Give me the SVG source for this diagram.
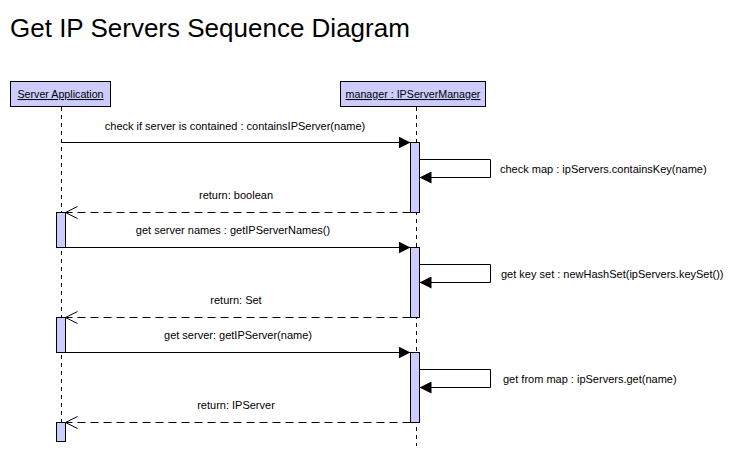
<svg xmlns="http://www.w3.org/2000/svg" width="736" height="453" viewBox="0 0 736 453">
<style>
text{font-family:"Liberation Sans",Arial,sans-serif;fill:#000}
.t{font-size:26px}
.l{font-size:11px}
.h{font-size:10.7px;text-decoration:underline}
.box{fill:#ccccff;stroke:#000;stroke-width:1}
.act{fill:#ccccff;stroke:#000;stroke-width:1}
.life{stroke:#000;stroke-width:1;stroke-dasharray:4,4;fill:none}
.call{stroke:#000;stroke-width:1;fill:none}
.ret{stroke:#000;stroke-width:1;stroke-dasharray:8,5;fill:none}
</style>
<defs>
<marker id="fill" markerWidth="12" markerHeight="12" refX="12" refY="6" orient="auto" markerUnits="userSpaceOnUse">
<path d="M0,0 L12,6 L0,12 Z" fill="#000"/>
</marker>
<marker id="open" markerWidth="14" markerHeight="14" refX="13" refY="7" orient="auto" markerUnits="userSpaceOnUse">
<path d="M1,1 L13,7 L1,13" fill="none" stroke="#000"/>
</marker>
</defs>
<rect width="736" height="453" fill="#fff"/>
<text class="t" x="10" y="37">Get IP Servers Sequence Diagram</text>

<g id="lifelines">
<line class="life" x1="61.5" y1="107" x2="61.5" y2="422"/>
<line class="life" x1="416.5" y1="107" x2="416.5" y2="446"/>
</g>

<g id="server-application">
<rect class="box" x="10.5" y="81.5" width="100" height="25"/>
<text class="h" x="60.5" y="98" text-anchor="middle">Server Application</text>
</g>
<g id="manager">
<rect class="box" x="340.5" y="81.5" width="145" height="25"/>
<text class="h" x="413" y="98" text-anchor="middle">manager : IPServerManager</text>
</g>

<g id="activations">
<rect class="act" x="410.5" y="142.5" width="9" height="70"/>
<rect class="act" x="410.5" y="247.5" width="9" height="70"/>
<rect class="act" x="410.5" y="352.5" width="9" height="70"/>
<rect class="act" x="56.5" y="212.5" width="9" height="35"/>
<rect class="act" x="56.5" y="317.5" width="9" height="35"/>
<rect class="act" x="56.5" y="422.5" width="9" height="19"/>
</g>

<g id="connectors">
<line class="call" x1="61.5" y1="142.5" x2="410.5" y2="142.5" marker-end="url(#fill)"/>
<polyline class="call" points="419.5,159.5 490.5,159.5 490.5,177.5 419.5,177.5" marker-end="url(#fill)"/>
<line class="ret" x1="410.5" y1="212.5" x2="65.5" y2="212.5" marker-end="url(#open)"/>
<line class="call" x1="56.5" y1="247.5" x2="410.5" y2="247.5" marker-end="url(#fill)"/>
<polyline class="call" points="419.5,264.5 490.5,264.5 490.5,282.5 419.5,282.5" marker-end="url(#fill)"/>
<line class="ret" x1="410.5" y1="317.5" x2="65.5" y2="317.5" marker-end="url(#open)"/>
<line class="call" x1="56.5" y1="352.5" x2="410.5" y2="352.5" marker-end="url(#fill)"/>
<polyline class="call" points="419.5,369.5 490.5,369.5 490.5,387.5 419.5,387.5" marker-end="url(#fill)"/>
<line class="ret" x1="410.5" y1="422.5" x2="65.5" y2="422.5" marker-end="url(#open)"/>
</g>

<g id="labels">
<text class="l" x="235" y="130" text-anchor="middle">check if server is contained : containsIPServer(name)</text>
<text class="l" x="500" y="173">check map : ipServers.containsKey(name)</text>
<text class="l" x="236" y="199" text-anchor="middle">return: boolean</text>
<text class="l" x="233" y="234" text-anchor="middle">get server names : getIPServerNames()</text>
<text class="l" x="501" y="278">get key set : newHashSet(ipServers.keySet())</text>
<text class="l" x="236" y="304" text-anchor="middle">return: Set</text>
<text class="l" x="238" y="339" text-anchor="middle">get server: getIPServer(name)</text>
<text class="l" x="503" y="383">get from map : ipServers.get(name)</text>
<text class="l" x="236" y="409" text-anchor="middle">return: IPServer</text>
</g>
</svg>
